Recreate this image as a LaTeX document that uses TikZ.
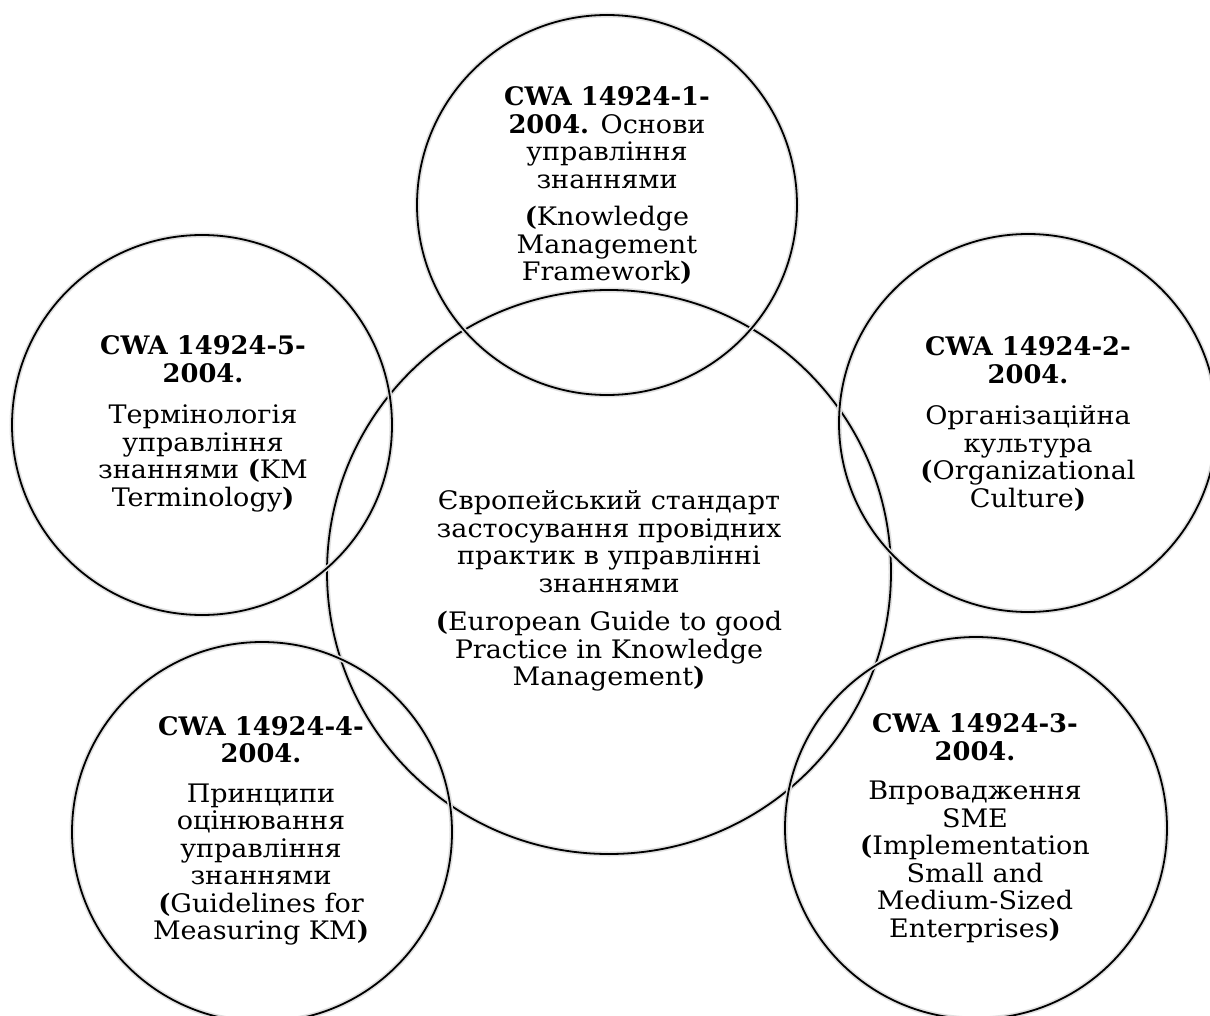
\documentclass[tikz,border=0pt]{standalone}
\usepackage{fontspec}
\setmainfont{DejaVu Serif}[FakeStretch=1.06,BoldFeatures={FakeStretch=1.01}]
\begin{document}
\begin{tikzpicture}[x=1pt,y=-1pt,
  ring/.style={circle,draw=black,line width=1.8pt,minimum size=#1,inner sep=0pt,
    preaction={draw=black!12,line width=5pt}},
  label/.style={align=center,inner sep=0pt,font=\fontsize{25.5}{27.5}\selectfont}]
\useasboundingbox (0,0) rectangle (1210,1016);
\fill[white] (0,0) rectangle (1210,1016);

% circles
\node[ring=564pt] (core) at (609,572) {};
\node[ring=380pt] (kmf)  at (607,205) {};
\node[ring=380pt] (term) at (202,425) {};
\node[ring=378pt] (org)  at (1028,423) {};
\node[ring=380pt] (meas) at (262,832) {};
\node[ring=382pt] (sme)  at (976,828) {};

% texts
\node[label] (tcore) at (609,591) {Європейський стандарт\\
  застосування провідних\\ практик в управлінні\\ знаннями\\[11pt]
  \textbf{(}European Guide to good\\ Practice in Knowledge\\ Management\textbf{)}};
\node[label] (tkmf) at (607,186) {\textbf{CWA 14924-1-}\\ \textbf{2004.} Основи\\
  управління\\ знаннями\\[10pt] \textbf{(}Knowledge\\ Management\\ Framework\textbf{)}};
\node[label] (tterm) at (203,424) {\textbf{CWA 14924-5-}\\ \textbf{2004.}\\[14pt]
  Термінологія\\ управління\\ знаннями \textbf{(}KM\\ Terminology\textbf{)}};
\node[label] (torg) at (1028,424) {\textbf{CWA 14924-2-}\\ \textbf{2004.}\\[14pt]
  Організаційна\\ культура\\ \textbf{(}Organizational\\ Culture\textbf{)}};
\node[label] (tmeas) at (261,831) {\textbf{CWA 14924-4-}\\ \textbf{2004.}\\[12pt]
  Принципи\\ оцінювання\\ управління\\ знаннями\\ \textbf{(}Guidelines for\\ Measuring KM\textbf{)}};
\node[label] (tsme) at (975,828) {\textbf{CWA 14924-3-}\\ \textbf{2004.}\\[12pt]
  Впровадження\\ SME\\ \textbf{(}Implementation\\ Small and\\ Medium-Sized\\ Enterprises\textbf{)}};
\end{tikzpicture}
\end{document}
